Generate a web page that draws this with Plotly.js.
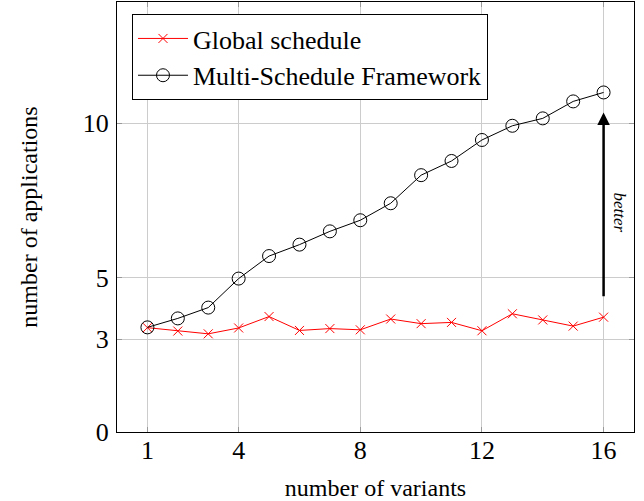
<!DOCTYPE html>
<html>
<head>
<meta charset="utf-8">
<script src="https://cdn.plot.ly/plotly-3.0.1.min.js"></script>
<style>html,body{margin:0;padding:0;background:#fff;}#chart{width:644px;height:501px;}</style>
</head>
<body>
<div id="chart"></div>
<script>
const variants = [1,2,3,4,5,6,7,8,9,10,11,12,13,14,15,16];
const globalSchedule = [3.38,3.27,3.18,3.37,3.74,3.29,3.35,3.31,3.66,3.51,3.55,3.28,3.83,3.63,3.43,3.72];
const multiSchedule = [3.39,3.68,4.03,4.97,5.70,6.07,6.50,6.86,7.41,8.32,8.78,9.46,9.92,10.16,10.71,11.00];
const xTicks = [1,4,8,12,16];
const yTicks = [0,3,5,10];

const serif = '"Liberation Serif", "Times New Roman", serif';

const traces = [
  {x: variants, y: globalSchedule, name: 'Global schedule', type: 'scatter', mode: 'lines+markers',
   line: {color: '#ff0000', width: 1}, marker: {symbol: 'x-thin-open', size: 9, color: '#ff0000', line: {color: '#ff0000', width: 1}}},
  {x: variants, y: multiSchedule, name: 'Multi-Schedule Framework', type: 'scatter', mode: 'lines+markers',
   line: {color: '#000000', width: 1}, marker: {symbol: 'circle-open', size: 13, color: '#000000', line: {color: '#000000', width: 1}}}
];

const layout = {
  width: 644, height: 501,
  margin: {l: 117, r: 10, t: 2, b: 69},
  paper_bgcolor: '#fff', plot_bgcolor: '#fff',
  font: {family: serif, color: '#000'},
  showlegend: true,
  legend: {x: 0.029, y: 0.972, xanchor: 'left', yanchor: 'top', bordercolor: '#000', borderwidth: 1,
           bgcolor: '#fff', font: {family: serif, size: 26, color: '#000'}, tracegroupgap: 0, itemwidth: 50,
           entrywidth: 360, entrywidthmode: 'pixels'},
  xaxis: {range: [0, 17], tickvals: xTicks, ticktext: xTicks.map(String), showgrid: true, gridcolor: '#cccccc', gridwidth: 1,
          zeroline: false, showline: true, linecolor: '#000', linewidth: 1, mirror: 'ticks',
          ticks: 'inside', ticklen: 5, tickcolor: '#999', tickfont: {family: serif, size: 26}, ticklabelstandoff: -5,
          title: {text: 'number of variants', font: {family: serif, size: 24}, standoff: 17}},
  yaxis: {range: [0, 13.93], tickvals: yTicks, ticktext: yTicks.map(String), showgrid: true, gridcolor: '#cccccc', gridwidth: 1,
          zeroline: false, showline: true, linecolor: '#000', linewidth: 1, mirror: 'ticks',
          ticks: 'inside', ticklen: 5, tickcolor: '#999', tickfont: {family: serif, size: 26}, ticklabelstandoff: 2,
          title: {text: 'number of applications', font: {family: serif, size: 24}, standoff: 38}},
  annotations: [
    {x: 16, y: 10.35, ax: 16, ay: 4.35, xref: 'x', yref: 'y', axref: 'x', ayref: 'y', text: '',
     showarrow: true, arrowhead: 2, arrowsize: 1, arrowwidth: 2.5, arrowcolor: '#000'},
    {x: 16.52, y: 7.1, xref: 'x', yref: 'y', text: '<i>better</i>', showarrow: false, textangle: 90,
     font: {family: serif, size: 17, color: '#000'}}
  ]
};

Plotly.newPlot('chart', traces, layout, {staticPlot: true, displayModeBar: false});
</script>
</body>
</html>
